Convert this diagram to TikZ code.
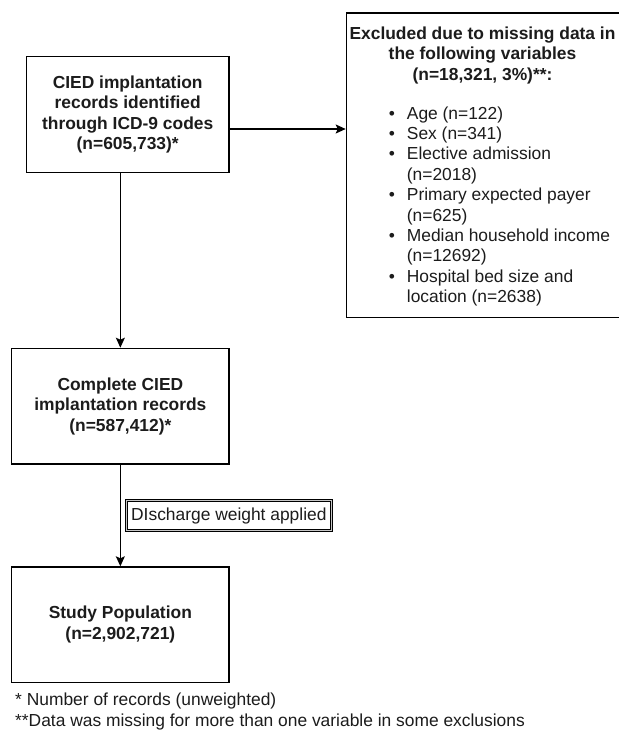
\documentclass[tikz,border=0pt]{standalone}
\usepackage{fontspec}
\setmainfont{Liberation Sans}
\usetikzlibrary{arrows.meta}
\definecolor{ink}{HTML}{1C1C1C}
\newcommand{\fsz}{\fontsize{17.4}{20.4}\selectfont}
\newcommand{\bul}{\makebox[18pt][l]{•}}
\tikzset{
  box/.style={draw=black, line width=1.3pt, rectangle, inner sep=0pt, align=center, font=\fsz\bfseries, text=ink},
  txt/.style={inner sep=0pt, font=\fsz, text=ink},
  lbl/.style={draw=black, line width=1.1pt, double=gray!45, double distance=0.9pt, rectangle, inner sep=0pt, font=\fsz, text=ink},
  arr/.style={draw=black, line width=1.3pt, -{Stealth[length=10pt, width=9pt, inset=2pt]}}
}
\begin{document}
\begin{tikzpicture}[x=1pt, y=-1pt]
\useasboundingbox (0,0) rectangle (618,730);
\fill[white] (0,0) rectangle (618,730);

% boxes
\node[box, minimum width=202.7pt, minimum height=115.7pt] (box1) at (127.7,114.5)
  {CIED implantation\\records identified\\through ICD-9 codes\\(n=605,733)*};
\node[box, minimum width=278pt, minimum height=304.7pt] (excl) at (485.35,165.3) {};
\node[box, minimum width=217.4pt, minimum height=115.7pt] (box3) at (120.35,406.2)
  {Complete CIED\\implantation records\\(n=587,412)*};
\node[box, minimum width=217.4pt, minimum height=115.4pt] (box4) at (120.35,624.65)
  {Study Population\\(n=2,902,721)};

% exclusion box contents
\node[txt, font=\fsz\bfseries, align=center] (exhead) at (482.5,55.5)
  {Excluded due to missing data in\\the following variables\\(n=18,321, 3\%)**:};
\node[txt, align=left, anchor=west] (exlist) at (388.7,206.4)
  {\bul Age (n=122)\\
   \bul Sex (n=341)\\
   \bul Elective admission\\
   \hspace*{18pt}(n=2018)\\
   \bul Primary expected payer\\
   \hspace*{18pt}(n=625)\\
   \bul Median household income\\
   \hspace*{18pt}(n=12692)\\
   \bul Hospital bed size and\\
   \hspace*{18pt}location (n=2638)};

% connectors
\draw[arr] ([yshift=-14.5pt]box1.east) -- ([yshift=-14.5pt]box1.east -| excl.west);
\draw[arr] (box1.south -| box3.north) -- (box3.north);
\draw[arr] (box3.south) -- (box4.north);

% edge label
\node[lbl, minimum width=204.7pt, minimum height=29.4pt] (weight) at (228.85,515.5)
  {DIscharge weight applied};

% footnotes
\node[txt, align=left, anchor=west] (notes) at (15,711.6)
  {* Number of records (unweighted)\\**Data was missing for more than one variable in some exclusions};
\end{tikzpicture}
\end{document}
